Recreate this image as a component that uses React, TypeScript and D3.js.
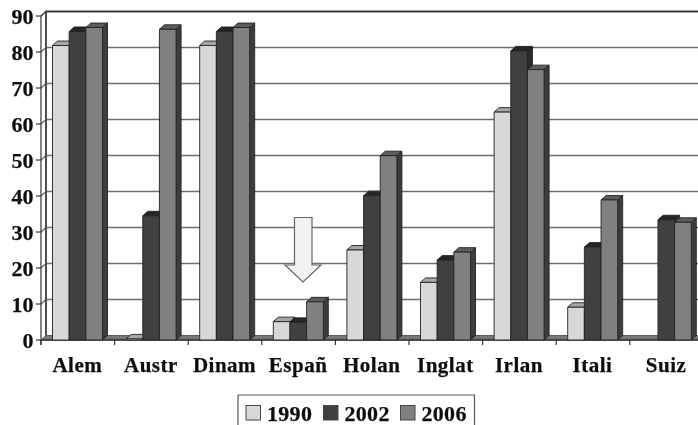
import React from "react";
import * as d3 from "d3";

const categories = ["Alem", "Austr", "Dinam", "Españ", "Holan", "Inglat", "Irlan", "Itali", "Suiz"];
const years = ["1990", "2002", "2006"];
const values1990 = [81.8, 0.3, 81.8, 5.1, 25, 16, 63.3, 9.1, 0];
const values2002 = [85.7, 34.5, 85.7, 4.9, 40.1, 22.2, 80.3, 25.8, 33.4];
const values2006 = [86.8, 86.3, 86.8, 10.6, 51.2, 24.4, 75.1, 38.9, 32.7];
const yTicks = [0, 10, 20, 30, 40, 50, 60, 70, 80, 90];
const faceColors = ["#d8d8d8", "#404040", "#808080"];
const topColors = ["#a6a6a6", "#262626", "#5c5c5c"];
const sideColors = ["#8a8a8a", "#2a2a2a", "#3c3c3c"];

const DX = 5;
const DY = -4.5;
const W = 698;
const H = 425;

export default function App() {
  const y = d3.scaleLinear().domain([0, 90]).range([340, 16]);
  const x = d3.scaleBand<string>().domain(categories).range([41, 41 + 73.6 * 9]).paddingInner(0).paddingOuter(0);
  const inner = d3.scaleBand<string>().domain(years).range([11.5, 61.5]);
  const series = [values1990, values2002, values2006];
  const serif = "'Liberation Serif', serif";
  const x0 = 41;
  const y0 = y(0);
  const right = x0 + 73.6 * 9;
  const ink = { fill: "#111", stroke: "#111", strokeWidth: 0.25 };
  const legendSwatchX = [246, 323.5, 400.5];

  return (
    <svg width={W} height={H} style={{ position: "absolute", left: 0, top: 0, background: "#fff" }} fontFamily={serif} fontWeight="bold">
      <defs>
        <filter id="soft" x="-2%" y="-2%" width="104%" height="104%">
          <feGaussianBlur stdDeviation="0.45" />
        </filter>
      </defs>
      <g filter="url(#soft)">
        {/* back wall */}
        <path d={`M${x0 + DX},${y0 + DY}V${y(90) + DY}H${W + 5}`} fill="none" stroke="#333" strokeWidth={1.3} />
        {/* grid lines */}
        {yTicks.filter((t) => t > 0).map((t) => (
          <path
            key={t}
            d={`M${x0},${y(t)}L${x0 + DX},${y(t) + DY}H${W + 5}`}
            fill="none"
            stroke={t === 90 ? "#333" : "#6e6e6e"}
            strokeWidth={1.3}
          />
        ))}
        {/* floor */}
        <polygon
          points={`${x0},${y0} ${x0 + DX},${y0 + DY} ${right + DX},${y0 + DY} ${right},${y0}`}
          fill="#777"
          stroke="#444"
          strokeWidth={0.8}
        />
        {/* left axis */}
        <line x1={x0} x2={x0} y1={y(90)} y2={y0 + 5} stroke="#333" strokeWidth={1.2} />
        <line x1={x0 + DX} x2={x0 + DX} y1={y(90) + DY} y2={y0 + DY} stroke="#333" strokeWidth={1.2} />
        {yTicks.map((t) => (
          <line key={t} x1={x0 - 5} x2={x0} y1={y(t)} y2={y(t)} stroke="#333" strokeWidth={1.2} />
        ))}
        {/* category ticks */}
        <line x1={x0} x2={W + 5} y1={y0} y2={y0} stroke="#333" strokeWidth={1.3} />
        {categories.map((c) => (
          <line key={c} x1={x(c)!} x2={x(c)!} y1={y0} y2={y0 + 5} stroke="#333" strokeWidth={1.2} />
        ))}
        {/* bars */}
        {categories.map((c, ci) =>
          years.map((yr, si) => {
            const v = series[si][ci];
            if (v <= 0) return null;
            const bx = x(c)! + inner(yr)!;
            const w = inner.bandwidth();
            const top = y(v);
            return (
              <g key={c + yr} stroke="#222" strokeWidth={0.9} strokeLinejoin="round">
                <polygon
                  points={`${bx + w},${top} ${bx + w + DX},${top + DY} ${bx + w + DX},${y0 + DY} ${bx + w},${y0}`}
                  fill={sideColors[si]}
                />
                <polygon
                  points={`${bx},${top} ${bx + DX},${top + DY} ${bx + w + DX},${top + DY} ${bx + w},${top}`}
                  fill={topColors[si]}
                />
                <rect x={bx} y={top} width={w} height={y0 - top} fill={faceColors[si]} />
              </g>
            );
          })
        )}
        {/* arrow */}
        <polygon
          points="294.5,217.5 312,217.5 312,265 321,265 303,282 285,265 294.5,265"
          fill="#f2f2f2"
          stroke="#666"
          strokeWidth={1.2}
        />
        {/* y labels */}
        {yTicks.map((t) => (
          <text key={t} x={33.5} y={y(t) + 1} dy="0.34em" textAnchor="end" fontSize={22} {...ink}>
            {t}
          </text>
        ))}
        {/* category labels */}
        {categories.map((c) => (
          <text
            key={c}
            x={x(c)! + x.bandwidth() / 2 - 0.5}
            y={372}
            textAnchor="middle"
            fontSize={21}
            letterSpacing={0.5}
            {...ink}
          >
            {c}
          </text>
        ))}
        {/* legend */}
        <path d="M238,425V395H474.5V425" fill="#fff" stroke="#555" strokeWidth={1.2} />
        {years.map((yr, i) => (
          <g key={yr}>
            <rect x={legendSwatchX[i]} y={405.5} width={14.5} height={14.5} fill={faceColors[i]} stroke="#444" strokeWidth={1} />
            <text x={legendSwatchX[i] + 21} y={420.5} fontSize={22} letterSpacing={0.3} {...ink}>
              {yr}
            </text>
          </g>
        ))}
      </g>
    </svg>
  );
}
